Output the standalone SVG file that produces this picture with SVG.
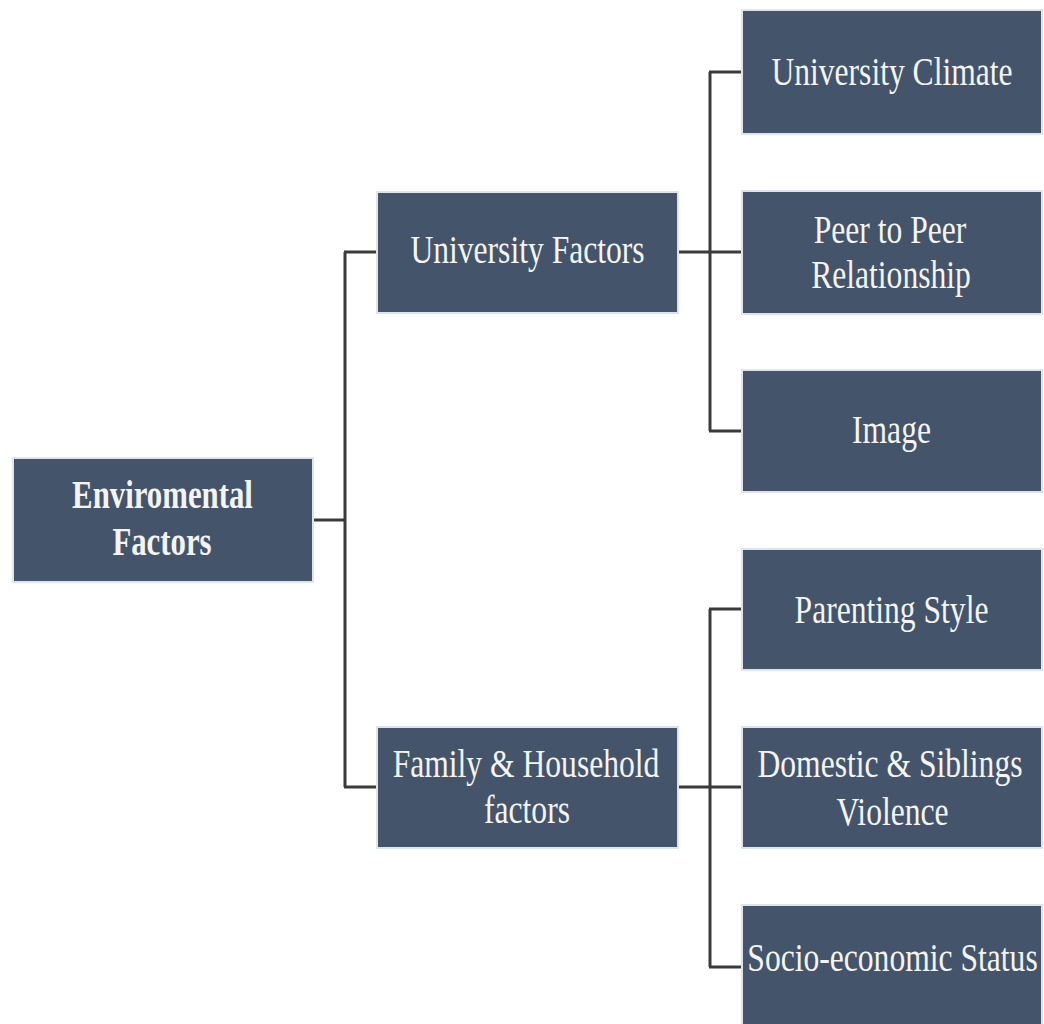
<svg xmlns="http://www.w3.org/2000/svg" width="1044" height="1024" viewBox="0 0 1044 1024">
  <style>
    .box { fill: #44546A; stroke: #dfe4ec; stroke-width: 2; }
    .t { font-family: "Liberation Serif", "Times New Roman", serif; font-size: 40px; fill: #f4f4f4; text-anchor: middle; }
    .b { font-weight: bold; }
    .c { fill: none; stroke: #3b3b3b; stroke-width: 3; }
  </style>
  <rect width="1044" height="1024" fill="#ffffff"/>
  <g id="connectors">
    <path class="c" d="M313,520 H345 M345,252 V787 M344,252 H377 M344,787 H377"/>
    <path class="c" d="M678,252 H742 M710,72 V431 M709,72 H742 M709,431 H742"/>
    <path class="c" d="M678,787 H742 M710,609 V967 M709,609 H742 M709,967 H742"/>
  </g>
  <g id="node-root">
    <rect class="box" x="13" y="458" width="300" height="124"/>
    <text class="t b" transform="translate(162.5,508) scale(0.77,1)">Enviromental</text>
    <text class="t b" transform="translate(162,555) scale(0.77,1)">Factors</text>
  </g>
  <g id="node-university">
    <rect class="box" x="377" y="192" width="301" height="121"/>
    <text class="t" transform="translate(527.5,263) scale(0.79,1)">University Factors</text>
  </g>
  <g id="node-family">
    <rect class="box" x="377" y="727" width="301" height="121"/>
    <text class="t" transform="translate(526,777) scale(0.79,1)">Family &amp; Household</text>
    <text class="t" transform="translate(527,823) scale(0.79,1)">factors</text>
  </g>
  <g id="node-climate">
    <rect class="box" x="742" y="10" width="300" height="124"/>
    <text class="t" transform="translate(892,85) scale(0.79,1)">University Climate</text>
  </g>
  <g id="node-peer">
    <rect class="box" x="742" y="191" width="300" height="123"/>
    <text class="t" transform="translate(890,243) scale(0.79,1)">Peer to Peer</text>
    <text class="t" transform="translate(891,288) scale(0.79,1)">Relationship</text>
  </g>
  <g id="node-image">
    <rect class="box" x="742" y="370" width="300" height="122"/>
    <text class="t" transform="translate(891.5,443) scale(0.79,1)">Image</text>
  </g>
  <g id="node-parenting">
    <rect class="box" x="742" y="549" width="300" height="121"/>
    <text class="t" transform="translate(891.5,623) scale(0.79,1)">Parenting Style</text>
  </g>
  <g id="node-domestic">
    <rect class="box" x="742" y="727" width="300" height="121"/>
    <text class="t" transform="translate(890,777) scale(0.79,1)">Domestic &amp; Siblings</text>
    <text class="t" transform="translate(892.5,825) scale(0.79,1)">Violence</text>
  </g>
  <g id="node-socio">
    <rect class="box" x="742" y="905" width="300" height="124"/>
    <text class="t" transform="translate(892.5,971) scale(0.79,1)">Socio-economic Status</text>
  </g>
</svg>
